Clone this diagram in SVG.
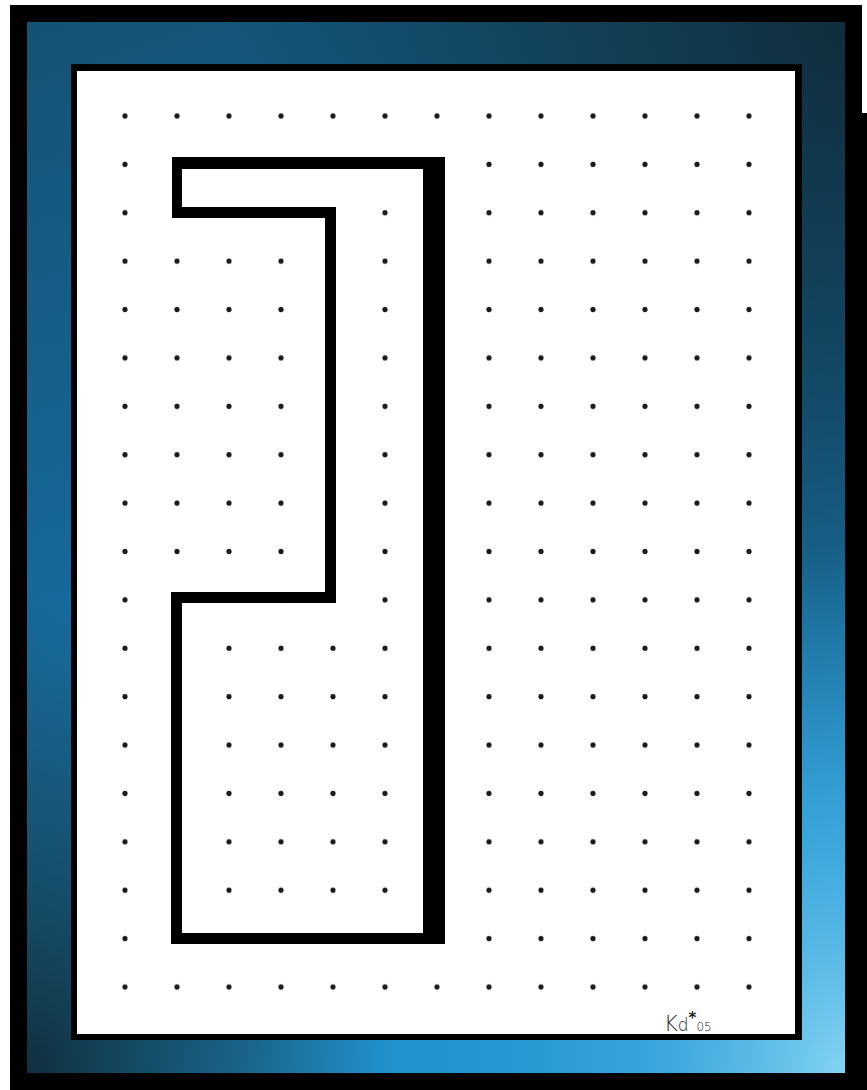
<svg xmlns="http://www.w3.org/2000/svg" width="867" height="1090" viewBox="0 0 867 1090">
  <style>
    .blk { fill: #000; }
    .dot { fill: #1a1a1a; }
    .sig { font-family: "DejaVu Sans", "Liberation Sans", sans-serif; fill: #222; }
  </style>
  <defs>
    <linearGradient id="base" x1="0" y1="0" x2="0.25" y2="1">
      <stop offset="0" stop-color="#135273"/>
      <stop offset="0.5" stop-color="#16679a"/>
      <stop offset="1" stop-color="#2294cf"/>
    </linearGradient>
    <radialGradient id="darkTR" cx="1" cy="0" r="0.75">
      <stop offset="0" stop-color="#0f2833" stop-opacity="0.9"/>
      <stop offset="0.5" stop-color="#10303e" stop-opacity="0.55"/>
      <stop offset="1" stop-color="#10303e" stop-opacity="0"/>
    </radialGradient>
    <radialGradient id="darkBL" cx="0" cy="1" r="0.45">
      <stop offset="0" stop-color="#0f2a36" stop-opacity="0.95"/>
      <stop offset="0.6" stop-color="#123646" stop-opacity="0.5"/>
      <stop offset="1" stop-color="#123646" stop-opacity="0"/>
    </radialGradient>
    <radialGradient id="lightBR" cx="1" cy="1" r="0.5">
      <stop offset="0" stop-color="#8ad6f4" stop-opacity="0.95"/>
      <stop offset="0.5" stop-color="#4ab4e6" stop-opacity="0.5"/>
      <stop offset="1" stop-color="#3aa6dc" stop-opacity="0"/>
    </radialGradient>
    <pattern id="dots" patternUnits="userSpaceOnUse" x="99" y="91.8" width="52" height="48.39">
      <circle class="dot" cx="26" cy="24.2" r="2.6"/>
    </pattern>
  </defs>

  <rect x="0" y="0" width="867" height="1090" fill="#ffffff"/>

  <g id="frame">
    <rect class="blk" x="10" y="5" width="852" height="1085"/>
    <rect class="blk" x="860" y="113" width="7" height="977"/>
    <rect x="27" y="22" width="818" height="1051" fill="url(#base)"/>
    <rect x="27" y="22" width="818" height="1051" fill="url(#darkTR)"/>
    <rect x="27" y="22" width="818" height="1051" fill="url(#darkBL)"/>
    <rect x="27" y="22" width="818" height="1051" fill="url(#lightBR)"/>
  </g>

  <g id="panel">
    <rect class="blk" x="71" y="64" width="731" height="976"/>
    <rect x="77" y="71" width="718" height="963" fill="#ffffff"/>
  </g>

  <g id="dot-grid">
    <rect x="99" y="91.8" width="676" height="919.4" fill="url(#dots)"/>
  </g>

  <g id="outline-shape">
    <path class="blk" fill-rule="evenodd" d="M172,157 L445,157 L445,944 L171,944 L171,592 L325,592 L325,218 L172,218 Z M182,169 L423,169 L423,933 L182,933 L182,603 L336,603 L336,207 L182,207 Z"/>
  </g>

  <g id="signature">
    <text class="sig" x="664" y="1031" font-size="21" font-weight="200">K<tspan font-size="17">d</tspan><tspan font-size="15" dy="-8" font-weight="bold">*</tspan><tspan font-size="12" dy="8">05</tspan></text>
  </g>
</svg>
